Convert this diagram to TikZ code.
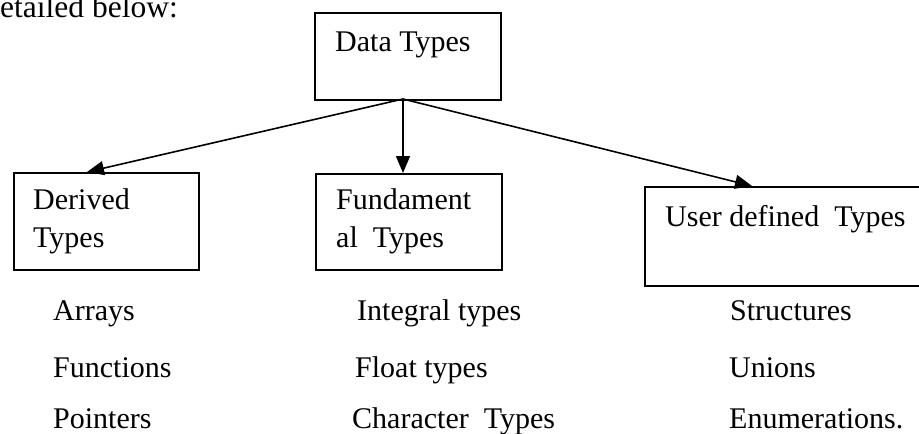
\documentclass[tikz,border=0pt]{standalone}
\usepackage{fontspec}
\setmainfont{Liberation Serif}
\usetikzlibrary{arrows.meta}
\begin{document}
\begin{tikzpicture}[x=1pt,y=-1pt,
  boxnode/.style={draw, line width=1.6pt, inner sep=0pt, anchor=north west},
  txt/.style={anchor=base west, inner sep=0pt, font=\fontsize{30}{36}\selectfont},
  arr/.style={line width=1.6pt, -{Triangle[length=17pt,width=14pt]}}]
\useasboundingbox (0,0) rectangle (919,434);
% intro text
\node[txt, font=\fontsize{31.5}{36}\selectfont] (intro) at (0,17) {etailed below:};
% boxes
\node[boxnode, minimum width=186pt, minimum height=87pt] (dt) at (314,12) {};
\node[boxnode, minimum width=185pt, minimum height=97pt] (der) at (13,172) {};
\node[boxnode, minimum width=186pt, minimum height=96pt] (fun) at (315,173) {};
\node[boxnode, minimum width=300pt, minimum height=99pt] (usr) at (644,186) {};
% box texts
\node[txt] (dtt) at (335,51) {Data Types};
\node[txt] (dert1) at (33,209) {Derived};
\node[txt] (dert2) at (33,247) {Types};
\node[txt] (funt1) at (336,209) {Fundament};
\node[txt] (funt2) at (336,247) {al\ \ Types};
\node[txt] (usrt) at (665,226) {User defined\ \ Types};
% lists
\node[txt] (a1) at (53,320) {Arrays};
\node[txt] (a2) at (53,377) {Functions};
\node[txt] (a3) at (53,428) {Pointers};
\node[txt] (b1) at (357,320) {Integral types};
\node[txt] (b2) at (355,377) {Float types};
\node[txt] (b3) at (352,428) {Character\ \ Types};
\node[txt] (c1) at (730,320) {Structures};
\node[txt] (c2) at (729,377) {Unions};
\node[txt] (c3) at (729,428) {Enumerations.};
% connectors
\coordinate (src) at (403,99);
\coordinate (tder) at (87,172);
\coordinate (tfun) at (403,173);
\coordinate (tusr) at (752,186);
\draw[arr] (src) -- (tder);
\draw[arr] (src) -- (tfun);
\draw[arr] (src) -- (tusr);
\end{tikzpicture}
\end{document}
